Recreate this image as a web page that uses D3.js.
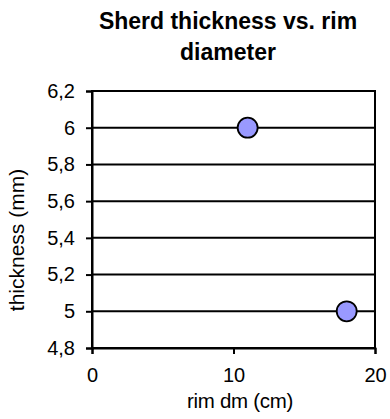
<!DOCTYPE html>
<html>
<head>
<meta charset="utf-8">
<script src="https://cdn.jsdelivr.net/npm/d3@7"></script>
<style>
  html, body { margin: 0; padding: 0; background: #fff; }
  svg { display: block; font-family: "Liberation Sans", Arial, sans-serif; }
</style>
</head>
<body>
<svg id="chart" width="390" height="419"></svg>
<script>
const rimDiameter = [11, 18];
const thickness = [6, 5];
const xTicks = [0, 10, 20];
const yTicks = [4.8, 5, 5.2, 5.4, 5.6, 5.8, 6, 6.2];
const titleLines = ["Sherd thickness vs. rim", "diameter"];
const xTitle = "rim dm (cm)";
const yTitle = "thickness (mm)";

const svg = d3.select("#chart");
const m = { left: 92, right: 390 - 375, top: 91, bottom: 419 - 348 };
const W = 390, H = 419;

const x = d3.scaleLinear().domain([0, 20]).range([m.left, W - m.right]);
const y = d3.scaleLinear().domain([4.8, 6.2]).range([H - m.bottom, m.top]);

const fmt = d => String(d).replace(".", ",");

// gridlines
svg.append("g").selectAll("line").data(yTicks).join("line")
  .attr("x1", x(0)).attr("x2", x(20))
  .attr("y1", d => y(d)).attr("y2", d => y(d))
  .attr("stroke", "#000").attr("stroke-width", 2);

// plot border
svg.append("rect")
  .attr("x", x(0)).attr("y", y(6.2))
  .attr("width", x(20) - x(0)).attr("height", y(4.8) - y(6.2))
  .attr("fill", "none").attr("stroke", "#000").attr("stroke-width", 2);

// axes
const yAxis = svg.append("g").attr("transform", `translate(${x(0)},0)`)
  .call(d3.axisLeft(y).tickValues(yTicks).tickFormat(fmt).tickSize(6).tickPadding(11));
const xAxis = svg.append("g").attr("transform", `translate(0,${y(4.8)})`)
  .call(d3.axisBottom(x).tickValues(xTicks).tickSize(6).tickPadding(14));
[yAxis, xAxis].forEach(a => {
  a.select(".domain").attr("stroke", "#000").attr("stroke-width", 2);
  a.selectAll(".tick line").attr("stroke", "#000").attr("stroke-width", 2);
  a.selectAll(".tick text").attr("fill", "#000")
    .style("font-family", '"Liberation Sans", Arial, sans-serif')
    .style("font-size", "20px");
});

// points
svg.append("g").selectAll("circle").data(rimDiameter).join("circle")
  .attr("cx", d => x(d)).attr("cy", (d, i) => y(thickness[i]))
  .attr("r", 10).attr("fill", "#9999FF").attr("stroke", "#000").attr("stroke-width", 1.8);

// title
svg.append("text").attr("text-anchor", "middle")
  .style("font-weight", "bold").style("font-size", "23px")
  .selectAll("tspan").data(titleLines).join("tspan")
  .attr("x", 228).attr("y", (d, i) => 29 + i * 31).text(d => d);

// axis titles
svg.append("text").attr("x", 240).attr("y", 408).attr("text-anchor", "middle")
  .style("font-size", "20.5px").style("letter-spacing", "-0.3px").text(xTitle);
svg.append("text").attr("transform", "translate(24,240) rotate(-90)")
  .attr("text-anchor", "middle").style("font-size", "21px").text(yTitle);
</script>
</body>
</html>
